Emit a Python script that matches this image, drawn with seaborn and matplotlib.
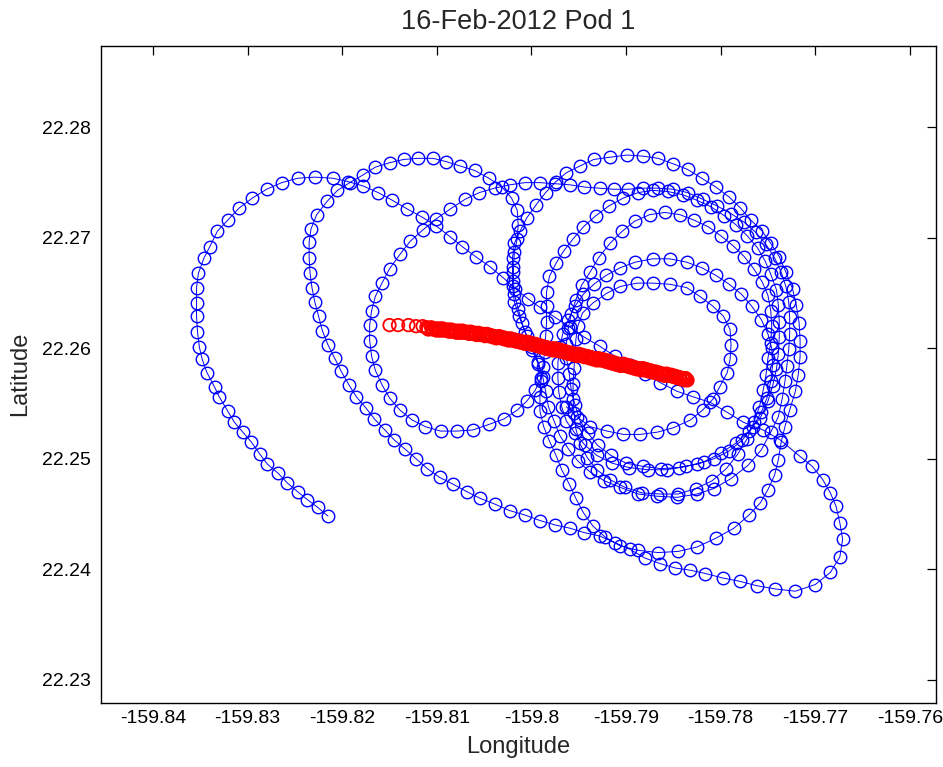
import numpy as np
import pandas as pd
import matplotlib
matplotlib.use("Agg")
import matplotlib.pyplot as plt
import seaborn as sns

# ---- pod track (blue), in drawing order ----
# outer western arc, from the free end up and over the top
outer_lon = [-159.8215, -159.8226, -159.8237, -159.8247, -159.8258, -159.8268, -159.8279, -159.8287, -159.8296, -159.8305,
             -159.8314, -159.8321, -159.8330, -159.8335, -159.8343, -159.8348, -159.8351, -159.8353, -159.8354, -159.8354,
             -159.8354, -159.8352, -159.8346, -159.8340, -159.8332, -159.8321, -159.8309, -159.8295, -159.8280, -159.8264,
             -159.8247, -159.8229, -159.8210, -159.8194]
outer_lat = [22.2448, 22.2456, 22.2463, 22.2470, 22.2478, 22.2487, 22.2495, 22.2504, 22.2515, 22.2524,
             22.2533, 22.2543, 22.2556, 22.2565, 22.2578, 22.2590, 22.2601, 22.2615, 22.2629, 22.2641,
             22.2655, 22.2668, 22.2682, 22.2692, 22.2706, 22.2716, 22.2727, 22.2736, 22.2744, 22.2750,
             22.2754, 22.2755, 22.2754, 22.2751]

# straight run to the south-east
cross_lon = [-159.8178, -159.8162, -159.8147, -159.8131, -159.8116, -159.8101, -159.8086, -159.8073, -159.8059, -159.8044,
             -159.8030, -159.8017, -159.8004, -159.7991, -159.7975, -159.7959, -159.7944, -159.7928, -159.7912, -159.7896,
             -159.7880, -159.7864, -159.7846, -159.7829, -159.7811, -159.7793, -159.7776, -159.7755, -159.7737, -159.7716]
cross_lat = [22.2747, 22.2741, 22.2734, 22.2726, 22.2719, 22.2711, 22.2701, 22.2692, 22.2683, 22.2674,
             22.2664, 22.2654, 22.2645, 22.2637, 22.2628, 22.2619, 22.2610, 22.2602, 22.2593, 22.2585,
             22.2577, 22.2569, 22.2561, 22.2556, 22.2551, 22.2542, 22.2533, 22.2526, 22.2517, 22.2502]

# eastern lobe and the long southern return
lobe_lon = [-159.7703, -159.7692, -159.7684, -159.7678, -159.7674, -159.7671, -159.7674, -159.7684, -159.7700, -159.7721,
            -159.7742, -159.7762, -159.7780, -159.7798, -159.7816, -159.7832, -159.7848, -159.7864, -159.7880, -159.7896,
            -159.7912, -159.7928, -159.7944, -159.7959, -159.7975, -159.7991, -159.8007, -159.8023, -159.8039, -159.8054,
            -159.8068, -159.8083, -159.8097]
lobe_lat = [22.2493, 22.2481, 22.2469, 22.2457, 22.2442, 22.2427, 22.2411, 22.2397, 22.2386, 22.2380,
            22.2382, 22.2385, 22.2389, 22.2392, 22.2396, 22.2399, 22.2401, 22.2405, 22.2410, 22.2418,
            22.2424, 22.2430, 22.2433, 22.2437, 22.2440, 22.2444, 22.2449, 22.2453, 22.2459, 22.2464,
            22.2470, 22.2477, 22.2483]

# middle arc, up the west side and over the top
mid_lon = [-159.8110, -159.8122, -159.8134, -159.8145, -159.8155, -159.8166, -159.8175, -159.8185, -159.8193, -159.8201,
           -159.8208, -159.8215, -159.8221, -159.8225, -159.8229, -159.8232, -159.8234, -159.8235, -159.8235, -159.8233,
           -159.8227, -159.8216, -159.8205, -159.8192, -159.8178, -159.8165, -159.8150, -159.8135, -159.8120, -159.8104,
           -159.8090, -159.8075, -159.8060, -159.8045]
mid_lat = [22.2491, 22.2500, 22.2509, 22.2517, 22.2526, 22.2536, 22.2546, 22.2556, 22.2567, 22.2579,
           22.2591, 22.2603, 22.2616, 22.2629, 22.2642, 22.2655, 22.2668, 22.2682, 22.2696, 22.2708,
           22.2721, 22.2733, 22.2743, 22.2750, 22.2757, 22.2764, 22.2768, 22.2771, 22.2772, 22.2772,
           22.2769, 22.2765, 22.2761, 22.2754]

# down the middle, then the small western loop
west_lon = [-159.8031, -159.8021, -159.8015, -159.8014, -159.8015, -159.8018, -159.8019, -159.8019, -159.8018, -159.8014,
            -159.8010, -159.8005, -159.7999, -159.7993, -159.7990,
            -159.7996, -159.8005, -159.8015, -159.8029, -159.8045, -159.8062, -159.8079, -159.8096, -159.8112, -159.8126,
            -159.8139, -159.8150, -159.8158, -159.8165, -159.8169, -159.8171, -159.8171, -159.8169, -159.8165, -159.8158,
            -159.8150, -159.8139, -159.8128, -159.8115, -159.8101, -159.8086, -159.8070, -159.8055, -159.8039, -159.8023,
            -159.8007, -159.7991, -159.7975, -159.7959, -159.7944, -159.7928, -159.7913]
west_lat = [22.2746, 22.2736, 22.2725, 22.2712, 22.2699, 22.2687, 22.2674, 22.2661, 22.2649, 22.2636,
            22.2623, 22.2611, 22.2598, 22.2586, 22.2573,
            22.2562, 22.2552, 22.2544, 22.2536, 22.2531, 22.2526, 22.2525, 22.2525, 22.2529, 22.2535,
            22.2544, 22.2555, 22.2567, 22.2580, 22.2593, 22.2607, 22.2621, 22.2634, 22.2647, 22.2659,
            22.2672, 22.2685, 22.2697, 22.2707, 22.2717, 22.2726, 22.2735, 22.2741, 22.2745, 22.2748,
            22.2750, 22.2750, 22.2749, 22.2748, 22.2746, 22.2745, 22.2744]

# eddy loops on the east side
eddy_lon = [-159.7898, -159.7882, -159.7866, -159.7850, -159.7835, -159.7819, -159.7804, -159.7789, -159.7775, -159.7763,
            -159.7752, -159.7743, -159.7736, -159.7731, -159.7728, -159.7727, -159.7727, -159.7728, -159.7730, -159.7732,
            -159.7735, -159.7739, -159.7747, -159.7757, -159.7771, -159.7789, -159.7807, -159.7825, -159.7846, -159.7867,
            -159.7887, -159.7906, -159.7923, -159.7938, -159.7951, -159.7961, -159.7970, -159.7976, -159.7982, -159.7985,
            -159.7988, -159.7993, -159.7999, -159.8007, -159.8013, -159.8018, -159.8020, -159.8020, -159.8020, -159.8018,
            -159.8012, -159.8005, -159.7995, -159.7985, -159.7974, -159.7963, -159.7949, -159.7934, -159.7917, -159.7899,
            -159.7882, -159.7866, -159.7850, -159.7835, -159.7820, -159.7805, -159.7791, -159.7779, -159.7768, -159.7756,
            -159.7747, -159.7738, -159.7731, -159.7724, -159.7720, -159.7717, -159.7716, -159.7716, -159.7718, -159.7721,
            -159.7727, -159.7732, -159.7736, -159.7739, -159.7743, -159.7750, -159.7758, -159.7770, -159.7786, -159.7805,
            -159.7825, -159.7845, -159.7866, -159.7887, -159.7906, -159.7922, -159.7935, -159.7945, -159.7953, -159.7960,
            -159.7968, -159.7974, -159.7981, -159.7987, -159.7991, -159.7991, -159.7990, -159.7988, -159.7986, -159.7985,
            -159.7984, -159.7984, -159.7984, -159.7981, -159.7974, -159.7966, -159.7956, -159.7945, -159.7932, -159.7918,
            -159.7903, -159.7887, -159.7872, -159.7856, -159.7840, -159.7825, -159.7810, -159.7796, -159.7784, -159.7772,
            -159.7761, -159.7753, -159.7747, -159.7741, -159.7739, -159.7738, -159.7738, -159.7739, -159.7741, -159.7745,
            -159.7750, -159.7758, -159.7770, -159.7784, -159.7800, -159.7818, -159.7837, -159.7857, -159.7877, -159.7897,
            -159.7915, -159.7931, -159.7943, -159.7954, -159.7963, -159.7968, -159.7971, -159.7972, -159.7972, -159.7970,
            -159.7967, -159.7961, -159.7954, -159.7945, -159.7934, -159.7921, -159.7906, -159.7890, -159.7872, -159.7854,
            -159.7836, -159.7820, -159.7805, -159.7791, -159.7778, -159.7767, -159.7757, -159.7750, -159.7746, -159.7745,
            -159.7747, -159.7751, -159.7757, -159.7766, -159.7777, -159.7791, -159.7807, -159.7825, -159.7844, -159.7863,
            -159.7882, -159.7900, -159.7916, -159.7930, -159.7940, -159.7949, -159.7954, -159.7958, -159.7960, -159.7963,
            -159.7963, -159.7961, -159.7958]
eddy_lat = [22.2744, 22.2745, 22.2745, 22.2744, 22.2741, 22.2735, 22.2729, 22.2722, 22.2714, 22.2705,
            22.2694, 22.2682, 22.2669, 22.2656, 22.2642, 22.2628, 22.2613, 22.2599, 22.2584, 22.2570,
            22.2554, 22.2538, 22.2524, 22.2508, 22.2494, 22.2482, 22.2473, 22.2468, 22.2465, 22.2466,
            22.2468, 22.2474, 22.2480, 22.2488, 22.2498, 22.2509, 22.2521, 22.2534, 22.2547, 22.2561,
            22.2574, 22.2588, 22.2601, 22.2615, 22.2629, 22.2642, 22.2656, 22.2669, 22.2682, 22.2695,
            22.2706, 22.2718, 22.2730, 22.2741, 22.2751, 22.2759, 22.2765, 22.2771, 22.2773, 22.2775,
            22.2774, 22.2772, 22.2767, 22.2762, 22.2754, 22.2746, 22.2737, 22.2727, 22.2716, 22.2706,
            22.2695, 22.2683, 22.2669, 22.2654, 22.2639, 22.2623, 22.2607, 22.2592, 22.2576, 22.2561,
            22.2544, 22.2529, 22.2515, 22.2499, 22.2485, 22.2472, 22.2460, 22.2449, 22.2437, 22.2428,
            22.2420, 22.2416, 22.2415, 22.2417, 22.2421, 22.2429, 22.2439, 22.2451, 22.2464, 22.2477,
            22.2490, 22.2503, 22.2516, 22.2529, 22.2543, 22.2556, 22.2570, 22.2583, 22.2597, 22.2611,
            22.2624, 22.2638, 22.2651, 22.2665, 22.2677, 22.2688, 22.2699, 22.2710, 22.2720, 22.2729,
            22.2736, 22.2741, 22.2743, 22.2742, 22.2739, 22.2734, 22.2728, 22.2720, 22.2712, 22.2702,
            22.2691, 22.2679, 22.2667, 22.2653, 22.2639, 22.2624, 22.2610, 22.2595, 22.2581, 22.2566,
            22.2552, 22.2537, 22.2525, 22.2514, 22.2505, 22.2497, 22.2493, 22.2490, 22.2490, 22.2492,
            22.2496, 22.2503, 22.2512, 22.2523, 22.2534, 22.2547, 22.2560, 22.2573, 22.2587, 22.2601,
            22.2613, 22.2626, 22.2638, 22.2649, 22.2658, 22.2666, 22.2673, 22.2678, 22.2681, 22.2681,
            22.2678, 22.2673, 22.2666, 22.2658, 22.2649, 22.2638, 22.2626, 22.2613, 22.2600, 22.2585,
            22.2570, 22.2555, 22.2542, 22.2529, 22.2517, 22.2507, 22.2500, 22.2495, 22.2492, 22.2491,
            22.2493, 22.2496, 22.2503, 22.2512, 22.2523, 22.2535, 22.2549, 22.2563, 22.2577, 22.2591,
            22.2604, 22.2618, 22.2631]

# smaller loop inside the eddy
inner_lon = [-159.7953, -159.7947, -159.7938, -159.7929, -159.7917, -159.7904, -159.7891, -159.7875, -159.7859, -159.7843,
             -159.7828, -159.7813, -159.7800, -159.7787, -159.7775, -159.7765, -159.7756, -159.7750, -159.7747, -159.7746,
             -159.7747, -159.7750, -159.7752, -159.7755, -159.7759, -159.7765, -159.7772, -159.7782, -159.7794, -159.7809,
             -159.7826, -159.7845, -159.7864, -159.7883, -159.7901, -159.7917, -159.7931, -159.7941, -159.7949, -159.7953,
             -159.7955, -159.7956, -159.7956, -159.7955, -159.7954, -159.7953, -159.7951]
inner_lat = [22.2644, 22.2657, 22.2669, 22.2682, 22.2695, 22.2706, 22.2715, 22.2721, 22.2723, 22.2721,
             22.2716, 22.2710, 22.2702, 22.2693, 22.2683, 22.2672, 22.2660, 22.2648, 22.2634, 22.2620,
             22.2605, 22.2591, 22.2576, 22.2562, 22.2547, 22.2533, 22.2518, 22.2504, 22.2491, 22.2480,
             22.2473, 22.2468, 22.2468, 22.2469, 22.2474, 22.2481, 22.2490, 22.2501, 22.2514, 22.2527,
             22.2541, 22.2554, 22.2568, 22.2582, 22.2595, 22.2608, 22.2620]

# last, tightest loop where the track ends
core_lon = [-159.7946, -159.7935, -159.7920, -159.7906, -159.7888, -159.7872, -159.7854, -159.7836, -159.7822, -159.7808,
            -159.7797, -159.7790, -159.7789, -159.7790, -159.7793, -159.7801, -159.7808, -159.7819, -159.7832, -159.7850,
            -159.7867, -159.7885, -159.7903, -159.7920, -159.7938, -159.7952, -159.7963]
core_lat = [22.2632, 22.2641, 22.2650, 22.2656, 22.2659, 22.2659, 22.2658, 22.2655, 22.2647, 22.2638,
            22.2629, 22.2617, 22.2603, 22.2590, 22.2578, 22.2565, 22.2554, 22.2544, 22.2535, 22.2528,
            22.2524, 22.2522, 22.2522, 22.2525, 22.2529, 22.2538, 22.2547]

# ---- red fixes: upper row of the band ----
red_lon = [-159.8150, -159.8141, -159.8130, -159.8122, -159.8115,
           -159.8111, -159.8106, -159.8102, -159.8098, -159.8094, -159.8089, -159.8085, -159.8081, -159.8077, -159.8073,
           -159.8068, -159.8064, -159.8060, -159.8056, -159.8051, -159.8047, -159.8043, -159.8039, -159.8034, -159.8030,
           -159.8026, -159.8022, -159.8018, -159.8013, -159.8009, -159.8005, -159.8001, -159.7996, -159.7992, -159.7988,
           -159.7984,
           -159.7979, -159.7975, -159.7971, -159.7967, -159.7963, -159.7958, -159.7954, -159.7950, -159.7946, -159.7941,
           -159.7937, -159.7933, -159.7929, -159.7924, -159.7920, -159.7916, -159.7912, -159.7908, -159.7903, -159.7899,
           -159.7895, -159.7891, -159.7886, -159.7882, -159.7878, -159.7874, -159.7869, -159.7865, -159.7861, -159.7857,
           -159.7852, -159.7848, -159.7844, -159.7840, -159.7837]
red_lat = [22.2621, 22.2621, 22.2621, 22.2620, 22.2620,
           22.2619, 22.2619, 22.2618, 22.2618, 22.2618, 22.2617, 22.2617, 22.2616, 22.2616, 22.2616,
           22.2615, 22.2615, 22.2614, 22.2614, 22.2613, 22.2613, 22.2612, 22.2611, 22.2611, 22.2610,
           22.2609, 22.2609, 22.2608, 22.2607, 22.2606, 22.2606, 22.2605, 22.2604, 22.2603, 22.2602,
           22.2601,
           22.2600, 22.2600, 22.2599, 22.2598, 22.2597, 22.2596, 22.2595, 22.2595, 22.2594, 22.2593,
           22.2592, 22.2591, 22.2591, 22.2590, 22.2589, 22.2588, 22.2587, 22.2586, 22.2586, 22.2585,
           22.2584, 22.2583, 22.2582, 22.2582, 22.2581, 22.2580, 22.2579, 22.2578, 22.2577, 22.2577,
           22.2576, 22.2575, 22.2574, 22.2573, 22.2573]

# ---- red fixes: middle row of the band ----
red_lon3 = [-159.8110, -159.8105, -159.8101, -159.8097, -159.8093, -159.8088, -159.8084, -159.8080, -159.8076, -159.8072,
            -159.8067, -159.8063, -159.8059, -159.8055, -159.8050, -159.8046, -159.8042, -159.8038, -159.8033, -159.8029,
            -159.8025, -159.8021, -159.8017, -159.8012, -159.8008, -159.8004, -159.8000, -159.7995, -159.7991, -159.7987,
            -159.7983,
            -159.7978, -159.7974, -159.7970, -159.7966, -159.7962, -159.7957, -159.7953, -159.7949, -159.7945, -159.7940,
            -159.7936, -159.7932, -159.7928, -159.7923, -159.7919, -159.7915, -159.7911, -159.7907, -159.7902, -159.7898,
            -159.7894, -159.7890, -159.7885, -159.7881, -159.7877, -159.7873, -159.7868, -159.7864, -159.7860, -159.7856,
            -159.7851, -159.7847, -159.7843, -159.7839, -159.7836]
red_lat3 = [22.2618, 22.2618, 22.2617, 22.2617, 22.2617, 22.2616, 22.2616, 22.2615, 22.2615, 22.2615,
            22.2614, 22.2614, 22.2613, 22.2613, 22.2612, 22.2612, 22.2611, 22.2610, 22.2610, 22.2609,
            22.2608, 22.2608, 22.2607, 22.2606, 22.2605, 22.2605, 22.2604, 22.2603, 22.2602, 22.2601,
            22.2600,
            22.2599, 22.2599, 22.2598, 22.2597, 22.2596, 22.2595, 22.2594, 22.2594, 22.2593, 22.2592,
            22.2591, 22.2590, 22.2590, 22.2589, 22.2588, 22.2587, 22.2586, 22.2585, 22.2585, 22.2584,
            22.2583, 22.2582, 22.2581, 22.2581, 22.2580, 22.2579, 22.2578, 22.2577, 22.2576, 22.2576,
            22.2575, 22.2574, 22.2573, 22.2572, 22.2572]

# ---- red fixes: lower row of the band ----
red_lon2 = [-159.8109, -159.8104, -159.8100, -159.8096, -159.8092, -159.8087, -159.8083, -159.8079, -159.8075, -159.8071,
            -159.8066, -159.8062, -159.8058, -159.8054, -159.8049, -159.8045, -159.8041, -159.8037, -159.8032, -159.8028,
            -159.8024, -159.8020, -159.8016, -159.8011, -159.8007, -159.8003, -159.7999, -159.7994, -159.7990, -159.7986,
            -159.7982,
            -159.7977, -159.7973, -159.7969, -159.7965, -159.7961, -159.7956, -159.7952, -159.7948, -159.7944, -159.7939,
            -159.7935, -159.7931, -159.7927, -159.7922, -159.7918, -159.7914, -159.7910, -159.7906, -159.7901, -159.7897,
            -159.7893, -159.7889, -159.7884, -159.7880, -159.7876, -159.7872, -159.7867, -159.7863, -159.7859, -159.7855,
            -159.7850, -159.7846, -159.7842, -159.7838, -159.7835]
red_lat2 = [22.2617, 22.2617, 22.2616, 22.2616, 22.2616, 22.2615, 22.2615, 22.2614, 22.2614, 22.2614,
            22.2613, 22.2613, 22.2612, 22.2612, 22.2611, 22.2611, 22.2610, 22.2609, 22.2609, 22.2608,
            22.2607, 22.2607, 22.2606, 22.2605, 22.2604, 22.2604, 22.2603, 22.2602, 22.2601, 22.2600,
            22.2599,
            22.2598, 22.2598, 22.2597, 22.2596, 22.2595, 22.2594, 22.2593, 22.2593, 22.2592, 22.2591,
            22.2590, 22.2589, 22.2589, 22.2588, 22.2587, 22.2586, 22.2585, 22.2584, 22.2584, 22.2583,
            22.2582, 22.2581, 22.2580, 22.2580, 22.2579, 22.2578, 22.2577, 22.2576, 22.2575, 22.2575,
            22.2574, 22.2573, 22.2572, 22.2571, 22.2571]

x_ticks = [-159.84, -159.83, -159.82, -159.81, -159.80, -159.79, -159.78, -159.77, -159.76]
x_tick_labels = ["-159.84", "-159.83", "-159.82", "-159.81", "-159.8", "-159.79", "-159.78", "-159.77", "-159.76"]
y_ticks = [22.23, 22.24, 22.25, 22.26, 22.27, 22.28]
y_tick_labels = ["22.23", "22.24", "22.25", "22.26", "22.27", "22.28"]

track = pd.DataFrame({
    "lon": outer_lon + cross_lon + lobe_lon + mid_lon + west_lon + eddy_lon + inner_lon + core_lon,
    "lat": outer_lat + cross_lat + lobe_lat + mid_lat + west_lat + eddy_lat + inner_lat + core_lat,
})
fixes = pd.DataFrame({"lon": red_lon + red_lon3 + red_lon2, "lat": red_lat + red_lat3 + red_lat2})

sns.set_style("white")
plt.rcParams["font.family"] = ["Liberation Sans", "DejaVu Sans"]

fig = plt.figure(figsize=(9.43, 7.67), dpi=100)
ax = fig.add_axes([0.1071, 0.0838, 0.8858, 0.8566])

sns.lineplot(data=track, x="lon", y="lat", sort=False, estimator=None, ax=ax,
             color="#0000ff", linewidth=0.7, marker="o", markersize=9,
             markerfacecolor="none", markeredgecolor="#0000ff", markeredgewidth=1.0)
sns.scatterplot(data=fixes, x="lon", y="lat", ax=ax, marker="o", s=81,
                facecolor="none", edgecolor="#ff0000", linewidth=1.3, zorder=3)

ax.set_xlim(-159.8455, -159.7572)
ax.set_ylim(22.2279, 22.2874)
ax.set_xticks(x_ticks)
ax.set_xticklabels(x_tick_labels)
ax.set_yticks(y_ticks)
ax.set_yticklabels(y_tick_labels)
ax.tick_params(direction="in", top=True, right=True, length=6.5, width=0.9,
               labelsize=14, colors="black")
ax.tick_params(axis="x", pad=5)
ax.tick_params(axis="y", pad=7)
for sp in ax.spines.values():
    sp.set_visible(True)
    sp.set_color("black")
    sp.set_linewidth(1.0)

ax.set_xlabel("Longitude", fontsize=17, labelpad=7)
ax.set_ylabel("Latitude", fontsize=17, labelpad=8)
ax.set_title("16-Feb-2012 Pod 1", fontsize=19.5, pad=12)

fig.savefig("out.png", dpi=100, facecolor="white")
